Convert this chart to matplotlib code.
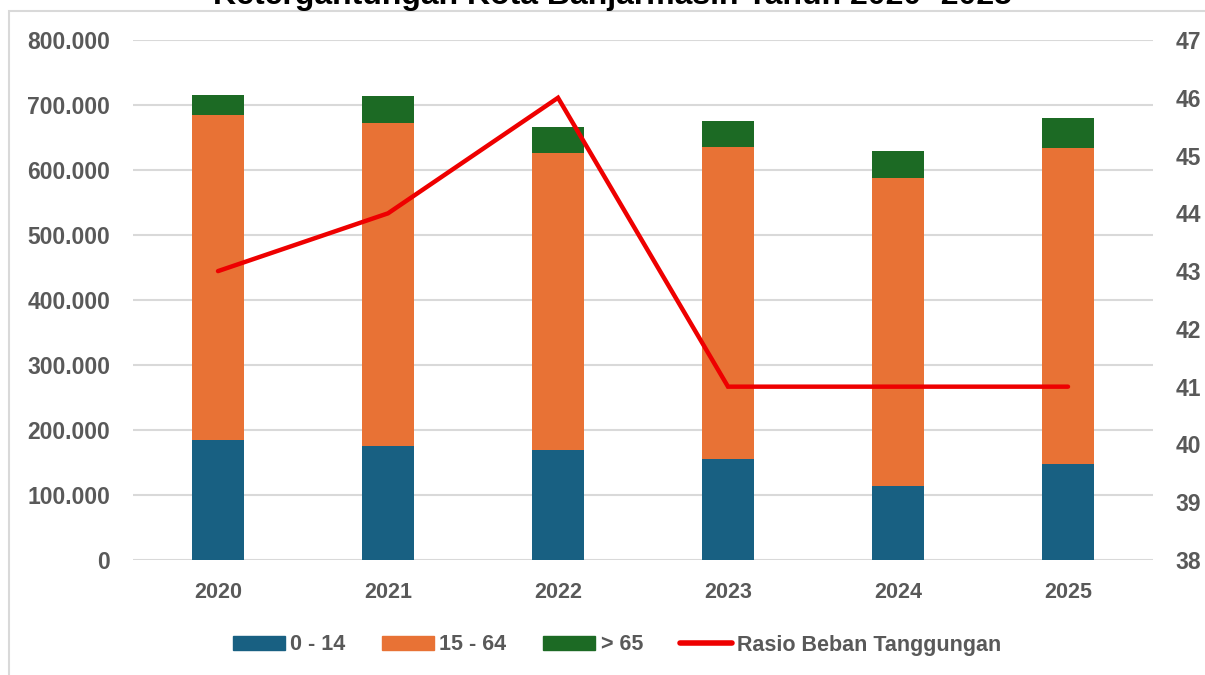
import matplotlib
matplotlib.use("Agg")
import matplotlib.pyplot as plt
from matplotlib.patches import Rectangle
from matplotlib.lines import Line2D
import numpy as np

years = ["2020", "2021", "2022", "2023", "2024", "2025"]
age_0_14 = [185000, 176000, 169000, 155500, 114000, 148000]
age_15_64 = [500000, 497000, 457000, 480000, 474000, 486000]
age_65 = [30500, 41000, 40500, 39500, 40500, 46500]
rasio = [43, 44, 46, 41, 41, 41]

title = "Ketergantungan Kota Banjarmasin Tahun 2020- 2025"
left_ticks = [0, 100000, 200000, 300000, 400000, 500000, 600000, 700000, 800000]
left_labels = ["0", "100.000", "200.000", "300.000", "400.000", "500.000", "600.000", "700.000", "800.000"]
right_ticks = [38, 39, 40, 41, 42, 43, 44, 45, 46, 47]

c_blue = "#186082"
c_orange = "#E87235"
c_green = "#1C6A24"
c_red = "#EE0000"
c_text = "#595959"
c_grid = "#D9D9D9"

plt.rcParams['font.family'] = ['Liberation Sans', 'DejaVu Sans']

W, H = 1205, 675
fig = plt.figure(figsize=(W / 100, H / 100), dpi=100)

# chart border
fig.patches.append(Rectangle((9 / W, -0.1), 1.2, 1 - 11 / H + 0.1, transform=fig.transFigure,
                             fill=False, edgecolor=c_grid, linewidth=1.5, zorder=0))

ax = fig.add_axes([133 / W, 1 - 560 / H, (1153 - 133) / W, (560 - 40) / H])
x = np.arange(len(years))
w = 0.31
b1 = np.array(age_0_14)
b2 = np.array(age_15_64)
b3 = np.array(age_65)
ax.bar(x, b1, w, color=c_blue, zorder=2)
ax.bar(x, b2, w, bottom=b1, color=c_orange, zorder=2)
ax.bar(x, b3, w, bottom=b1 + b2, color=c_green, zorder=2)
ax.set_xlim(-0.5, len(years) - 0.5)
ax.set_ylim(0, 800000)
ax.set_yticks(left_ticks)
ax.set_yticklabels(left_labels)
ax.set_xticks(x)
ax.set_xticklabels(years)
ax.yaxis.grid(True, color=c_grid, linewidth=1.5, zorder=0)
ax.set_axisbelow(True)
for s in ax.spines.values():
    s.set_visible(False)
ax.tick_params(axis='both', length=0, labelsize=16.5, labelcolor=c_text)
ax.tick_params(axis='y', pad=16.5)
ax.tick_params(axis='x', pad=16, labelsize=15.5)
for lab in ax.get_xticklabels() + ax.get_yticklabels():
    lab.set_fontweight('bold')

ax2 = ax.twinx()
ax2.plot(x, rasio, color=c_red, linewidth=3.2, solid_capstyle='round', solid_joinstyle='miter', zorder=5)
ax2.set_ylim(38, 47)
ax2.set_yticks(right_ticks)
for s in ax2.spines.values():
    s.set_visible(False)
ax2.tick_params(axis='y', length=0, labelsize=16.5, labelcolor=c_text, pad=16.5)
for lab in ax2.get_yticklabels():
    lab.set_fontweight('bold')

fig.text(612 / W, 1 - 4 / H, title, ha='center', va='baseline', fontsize=23,
         fontweight='bold', color='black')

handles = [
    Rectangle((0, 0), 1, 1, color=c_blue),
    Rectangle((0, 0), 1, 1, color=c_orange),
    Rectangle((0, 0), 1, 1, color=c_green),
    Line2D([0], [0], color=c_red, linewidth=4, solid_capstyle='round'),
]
labels = ["0 - 14", "15 - 64", "> 65", "Rasio Beban Tanggungan"]
leg = fig.legend(handles, labels, loc='center', bbox_to_anchor=(617 / W, 1 - 645 / H), ncol=4,
                 frameon=False, prop={'size': 15.5, 'weight': 'bold'}, handlelength=2.42,
                 handleheight=0.65, handletextpad=0.25, columnspacing=1.7, borderpad=0)
for t in leg.get_texts():
    t.set_color(c_text)

fig.savefig("out.png", dpi=100)
